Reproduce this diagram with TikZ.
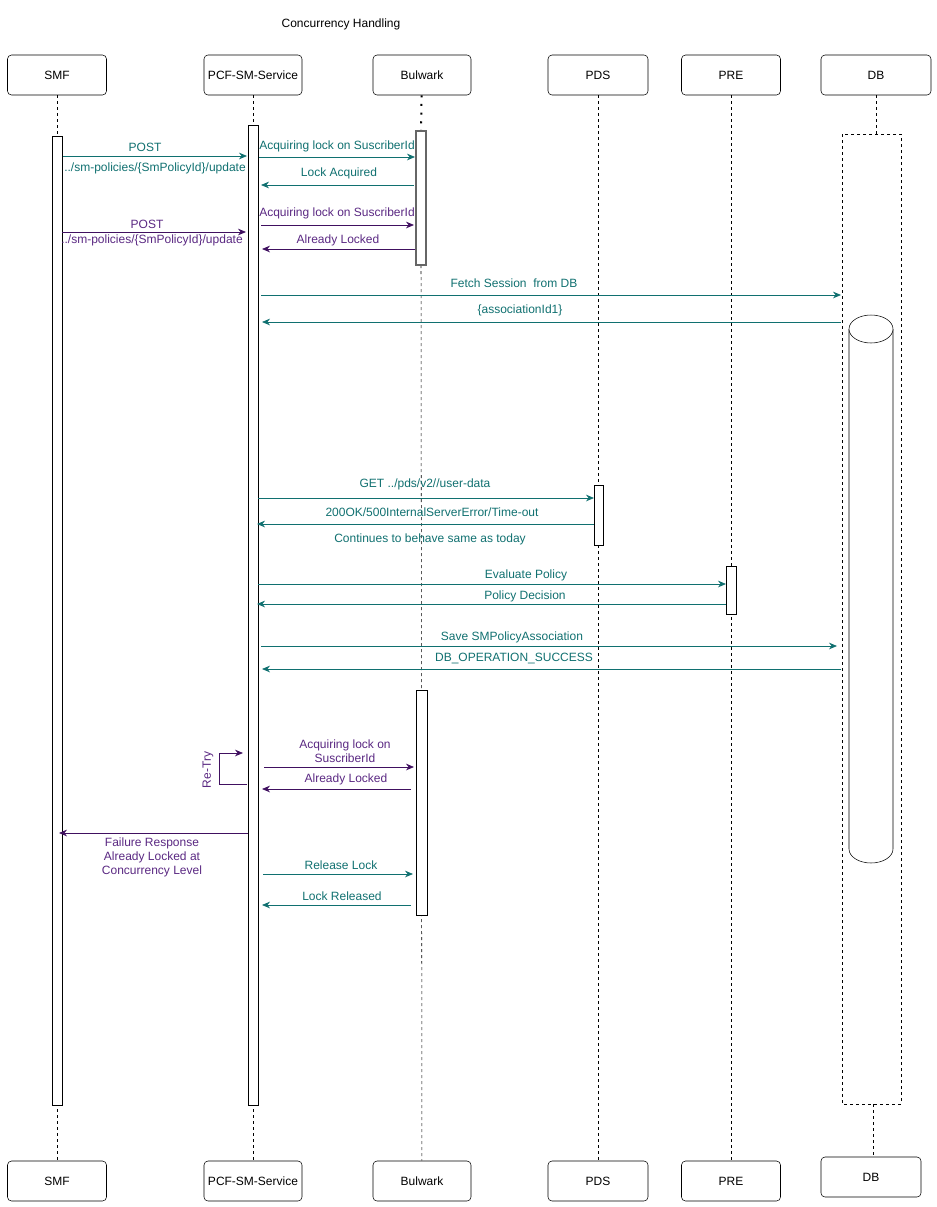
\documentclass[tikz,border=0pt]{standalone}
\usepackage{fontspec}
\setmainfont{Liberation Sans}
\usetikzlibrary{arrows.meta}
\definecolor{tl}{RGB}{16,112,112}
\definecolor{pu}{RGB}{64,16,96}
\definecolor{put}{RGB}{90,40,130}
\begin{document}
\begin{tikzpicture}[x=0.75pt,y=-0.75pt,font=\fontsize{9}{10.5}\selectfont,
 actor/.style={draw,rounded corners=3pt,minimum height=30pt,inner sep=0pt},
 act/.style={draw,fill=white},
 life/.style={dash pattern=on 2.25pt off 2.25pt},
 tm/.style={draw=tl,-{Stealth[length=6pt,width=5pt]},line width=0.6pt},
 pm/.style={draw=pu,-{Stealth[length=6pt,width=5pt]},line width=0.6pt},
 tt/.style={text=tl,inner sep=1pt},
 pt/.style={text=put,inner sep=1pt,align=center}]
\useasboundingbox (0,0) rectangle (937,1207);
\node at (341,24) {Concurrency Handling};
% top actors
\foreach \n/\x/\w/\t in {smf/57/99/SMF,pcf/253/98/PCF-SM-Service,bul/422/98/Bulwark,pds/598/100/PDS,pre/731/99/PRE,db/876/110/DB}{
 \node[actor,minimum width=\w*0.75pt] (\n t) at (\x,75) {\t};}
\foreach \n/\x/\w/\y/\t in {smf/57/99/1181/SMF,pcf/253/98/1181/PCF-SM-Service,bul/422/98/1181/Bulwark,pds/598/100/1181/PDS,pre/731/99/1181/PRE,db/871/100/1177/DB}{
 \node[actor,minimum width=\w*0.75pt] (\n b) at (\x,\y) {\t};}
% lifelines
\draw[life] (smft) -- (smfb);
\draw[life] (pcft) -- (pcfb);
\draw[life] (421,265) -- (bulb);
\draw[line width=1.5pt,dash pattern=on 1.5pt off 5pt] (bult) -- (421,131);
\draw[life] (pdst) -- (pdsb);
\draw[life] (pret) -- (preb);
\draw[life] (dbt) -- (876,134);
\draw[life] (873,1104) -- (873,1157);
% activations
\draw[act] (52,136) rectangle (62,1105);
\draw[act] (248,125) rectangle (258,1105);
\draw[act,draw=black!60,line width=0.8pt] (416,131) rectangle (426,265);
\draw[act] (416,690) rectangle (427,915);
\draw[act] (594,485) rectangle (603,545);
\draw[act] (726,566) rectangle (736,614);
\draw[life,fill=white] (842,134) rectangle (901,1104);
% database cylinder
\draw[fill=white] (849,329) -- (849,849) arc[start angle=180,end angle=0,x radius=22,y radius=14] -- (893,329);
\draw[fill=white] (871,329) ellipse[x radius=22,y radius=14];
\coordinate (cyl) at (871,589);
% messages
\draw[tm] (63,156) -- (247,156);
\node[tt] at (145,147) {POST};
\node[tt] at (155,168) {../sm-policies/\{SmPolicyId\}/update};
\draw[tm] (259,157) -- (415,157);
\node[tt] at (337,146) {Acquiring lock on SuscriberId};
\draw[tm] (414,185) -- (261,185);
\node[tt] at (339,173) {Lock Acquired};
\draw[pm] (62,232) -- (246,232);
\node[pt] at (147,224) {POST};
\node[pt] at (152,240) {../sm-policies/\{SmPolicyId\}/update};
\draw[pm] (261,225) -- (414,225);
\node[pt] at (337,213) {Acquiring lock on SuscriberId};
\draw[pm] (415,249) -- (262,249);
\node[pt] at (338,240) {Already Locked};
\draw[tm] (261,295) -- (841,295);
\node[tt] at (514,283) {Fetch Session\ \ from DB};
\draw[tm] (841,322) -- (262,322);
\node[tt] at (520,310) {\{associationId1\}};
\draw[tm] (258,498) -- (594,498);
\node[tt] at (425,484) {GET ../pds/v2//user-data};
\draw[tm] (594,524) -- (257,524);
\node[tt] at (432,512) {200OK/500InternalServerError/Time-out};
\node[tt] at (430,539) {Continues to behave same as today};
\draw[tm] (258,584) -- (726,584);
\node[tt] at (526,575) {Evaluate Policy};
\draw[tm] (726,604) -- (257,604);
\node[tt] at (525,596) {Policy Decision};
\draw[tm] (261,646) -- (837,646);
\node[tt] at (512,637) {Save SMPolicyAssociation};
\draw[tm] (841,669) -- (262,669);
\node[tt] at (514,658) {DB\_OPERATION\_SUCCESS};
\draw[pm] (247,784) -- (219,784) -- (219,753) -- (243,753);
\node[pt,rotate=90] at (208,770) {Re-Try};
\draw[pm] (264,767) -- (414,767);
\node[pt] at (345,751) {Acquiring lock on\\SuscriberId};
\draw[pm] (411,789) -- (262,789);
\node[pt] at (346,779) {Already Locked};
\draw[pm] (248,833) -- (59,833);
\node[pt] at (152,857) {Failure Response\\Already Locked at\\Concurrency Level};
\draw[tm] (263,874) -- (413,874);
\node[tt] at (341,865) {Release Lock};
\draw[tm] (411,905) -- (262,905);
\node[tt] at (342,896) {Lock Released};
\end{tikzpicture}
\end{document}
